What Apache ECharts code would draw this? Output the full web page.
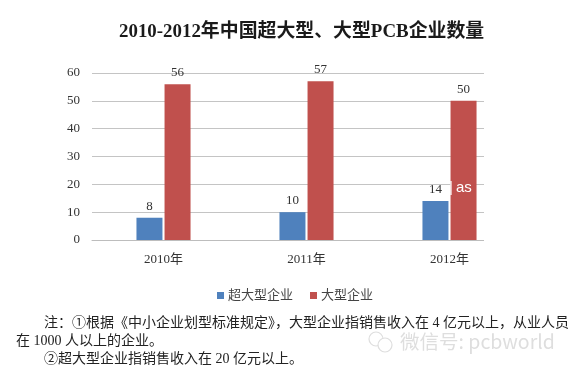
<!DOCTYPE html>
<html><head><meta charset="utf-8">
<style>html,body{margin:0;padding:0;background:#fff}#c{width:574px;height:369px}</style>
<script src="https://cdn.jsdelivr.net/npm/echarts@6/dist/echarts.min.js"></script>
</head><body><div id="c"></div>
<script>
const categories = ['2010年', '2011年', '2012年'];
const superLarge = [8, 10, 14];
const large = [56, 57, 50];
const seriesNames = ['超大型企业', '大型企业'];
const yTicks = {min: 0, max: 60, interval: 10};
const titleText = '2010-2012年中国超大型、大型PCB企业数量';
const noteLines = [
  '注\uFF1A①根据《中小企业划型标准规定》\uFF0C大型企业指销售收入在 4 亿元以上\uFF0C从业人员',
  '在 1000 人以上的企业。',
  '②超大型企业指销售收入在 20 亿元以上。'
];
const watermark = '微信号: pcbworld';
const serif = '"Liberation Serif","Noto Sans CJK SC",serif';
const cjk = '"Liberation Serif","Noto Sans CJK SC",sans-serif';
const chart = echarts.init(document.getElementById('c'), null, {renderer: 'canvas'});
const labelCfg = {show: true, position: 'top', distance: 5, fontFamily: serif, fontSize: 13, color: '#333'};
chart.setOption({
  animation: false,
  backgroundColor: '#fff',
  title: {text: titleText, left: 119, top: 23, padding: 0,
    textStyle: {fontFamily: cjk, fontSize: 18.9, fontWeight: 'bold', color: '#1a1a1a'}},
  legend: {left: 217, top: 289, itemWidth: 7, itemHeight: 7, itemGap: 17, icon: 'rect', padding: 0,
    data: seriesNames,
    textStyle: {fontFamily: cjk, fontSize: 13, color: '#444', padding: [0, 0, 0, -1]}},
  grid: {left: 92, top: 73, width: 429, height: 167},
  xAxis: {type: 'category', data: categories,
    axisLine: {show: true, lineStyle: {color: '#bdbdbd', width: 1}},
    axisTick: {show: false},
    axisLabel: {fontFamily: serif, fontSize: 13, color: '#333', margin: 13}},
  yAxis: {type: 'value', min: yTicks.min, max: yTicks.max, interval: yTicks.interval,
    axisLine: {show: false}, axisTick: {show: false},
    axisLabel: {fontFamily: serif, fontSize: 13, color: '#333', margin: 12},
    splitLine: {lineStyle: {color: '#c4c4c4', width: 1}}},
  series: [
    {name: seriesNames[0], type: 'bar', data: superLarge, barWidth: 26, barGap: '8%',
      itemStyle: {color: '#4F81BD'}, label: labelCfg},
    {name: seriesNames[1], type: 'bar', data: large, barWidth: 26,
      itemStyle: {color: '#C0504D'}, label: labelCfg}
  ],
  graphic: [
    {type: 'rect', z: 50, shape: {x: 484, y: 60, width: 50, height: 190}, style: {fill: '#fff'}},
    {type: 'text', z: 60, x: 449, y: 180, style: {text: '|', fill: '#fff', font: '15px "Liberation Sans"'}},
    {type: 'text', z: 60, x: 456, y: 180, style: {text: 'as', fill: '#fff', font: '15px "Liberation Sans"', letterSpacing: 1}},
    {type: 'text', z: 60, x: 44, y: 316, style: {text: noteLines[0], fill: '#222', font: '14px ' + cjk}},
    {type: 'text', z: 60, x: 16, y: 334, style: {text: noteLines[1], fill: '#222', font: '14px ' + cjk}},
    {type: 'text', z: 60, x: 44, y: 352, style: {text: noteLines[2], fill: '#222', font: '14px ' + cjk}},
    {type: 'text', z: 40, x: 400, y: 332, style: {text: watermark, fill: '#dedede', font: '19.5px "Noto Sans CJK SC"'}},
    {type: 'circle', z: 40, shape: {cx: 376, cy: 339, r: 7}, style: {fill: 'none', stroke: '#dedede', lineWidth: 1.2}},
    {type: 'circle', z: 40, shape: {cx: 385, cy: 345, r: 7}, style: {fill: '#fff', stroke: '#dedede', lineWidth: 1.2}}
  ]
});
</script></body></html>
